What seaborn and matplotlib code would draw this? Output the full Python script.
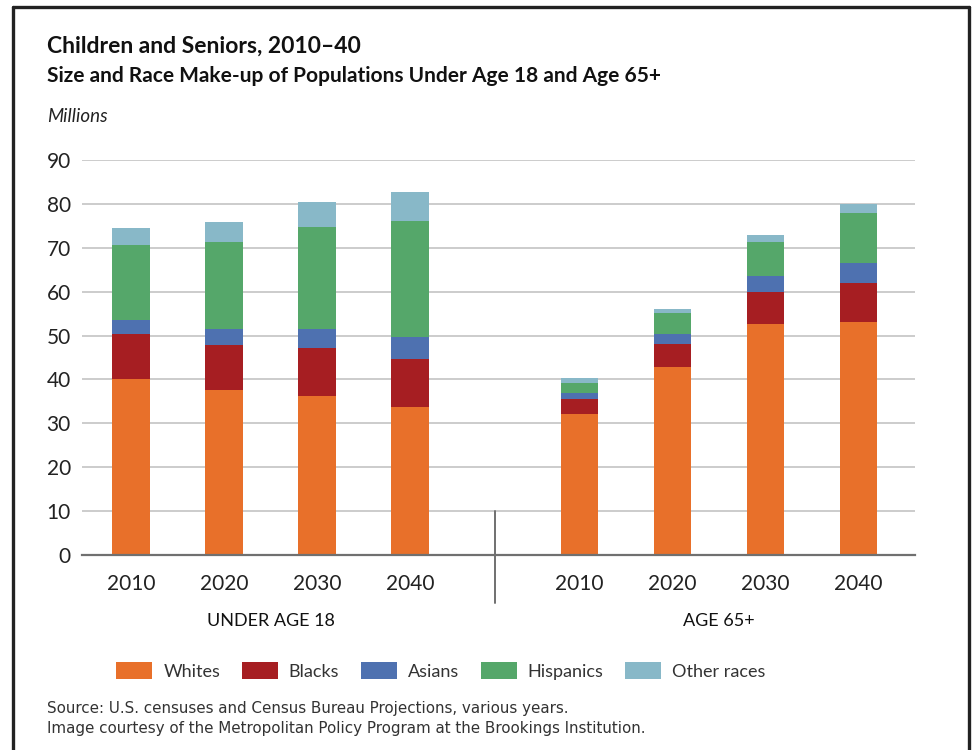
import numpy as np
import pandas as pd
import matplotlib
matplotlib.use("Agg")
import matplotlib.pyplot as plt
import seaborn as sns
from matplotlib.lines import Line2D
from matplotlib.patches import Patch

# ---- data (millions) ----
groups = ["UNDER AGE 18", "AGE 65+"]
years = ["2010", "2020", "2030", "2040"]
races = ["Whites", "Blacks", "Asians", "Hispanics", "Other races"]

whites_u18 = [40.2, 37.6, 36.3, 33.8]
blacks_u18 = [10.1, 10.3, 10.8, 10.8]
asians_u18 = [3.3, 3.7, 4.3, 5.0]
hispanics_u18 = [17.0, 19.8, 23.4, 26.6]
other_u18 = [3.8, 4.5, 5.6, 6.4]

whites_65 = [32.2, 42.9, 52.6, 53.2]
blacks_65 = [3.3, 5.2, 7.4, 8.7]
asians_65 = [1.3, 2.3, 3.6, 4.6]
hispanics_65 = [2.5, 4.7, 7.8, 11.4]
other_65 = [1.0, 0.9, 1.5, 2.1]

colors = ["#E8702A", "#A61E22", "#4E71B0", "#55A76A", "#88B8C8"]

# ---- build long table ----
gap = 1.82
rows = []
series = {
    "UNDER AGE 18": [whites_u18, blacks_u18, asians_u18, hispanics_u18, other_u18],
    "AGE 65+": [whites_65, blacks_65, asians_65, hispanics_65, other_65],
}
for gi, g in enumerate(groups):
    for yi, yr in enumerate(years):
        pos = yi + gi * (len(years) - 1 + gap)
        for ri, r in enumerate(races):
            rows.append(dict(group=g, year=yr, pos=pos, race=r, value=series[g][ri][yi]))
df = pd.DataFrame(rows)
df["race"] = pd.Categorical(df["race"], races, ordered=True)
df = df.sort_values(["pos", "race"])
df["cum"] = df.groupby("pos")["value"].cumsum()

# ---- figure ----
sns.set_theme(style="white")
plt.rcParams["font.family"] = ["Lato", "DejaVu Sans"]
fig = plt.figure(figsize=(9.78, 7.5), dpi=100)
ax = fig.add_axes([82 / 978, 1 - 555 / 750, (915 - 82) / 978, (555 - 160) / 750])

for ri in range(len(races) - 1, -1, -1):
    sub = df[df["race"] == races[ri]]
    sns.barplot(data=sub, x="pos", y="cum", native_scale=True, color=colors[ri],
                width=0.4, saturation=1, ax=ax, zorder=3, linewidth=0, errorbar=None)

ax.set_xlim(-0.527, 8.43)
ax.set_ylim(0, 90)
ax.set_yticks(np.arange(0, 91, 10))
ax.set_yticklabels([str(v) for v in range(0, 91, 10)], fontsize=15, color="#222222")
ax.yaxis.grid(True, color="#c8c8c8", linewidth=1.3, zorder=0)
ax.set_axisbelow(True)
ax.tick_params(axis="y", length=0, pad=8)
positions = sorted(df["pos"].unique())
ax.set_xticks(positions)
ax.set_xticklabels(years * 2, fontsize=15, color="#222222")
ax.tick_params(axis="x", length=0, pad=14)
ax.set_xlabel("")
ax.set_ylabel("")
for s in ["top", "right", "left"]:
    ax.spines[s].set_visible(False)
ax.spines["bottom"].set_color("#707070")
ax.spines["bottom"].set_linewidth(1.6)
ax.spines["bottom"].set_zorder(5)

# divider between groups
mid = (positions[3] + positions[4]) / 2
ax.plot([mid, mid], [10, -11], color="#707070", linewidth=1.4, clip_on=False, zorder=5)

# group labels
for gi, g in enumerate(groups):
    p = positions[gi * 4: gi * 4 + 4]
    cx = (p[0] + p[-1]) / 2
    ax.text(cx, -15, g, ha="center", va="center", fontsize=13, color="#111111",
            transform=ax.transData, clip_on=False)

# titles
fig.text(47 / 978, 1 - 46 / 750, "Children and Seniors, 2010\u201340", fontsize=16.5,
         fontweight="bold", color="#111111", va="center", ha="left")
fig.text(47 / 978, 1 - 76 / 750, "Size and Race Make-up of Populations Under Age 18 and Age 65+",
         fontsize=15, fontweight="bold", color="#111111", va="center", ha="left")
fig.text(47 / 978, 1 - 117 / 750, "Millions", fontsize=13.5, style="italic",
         color="#222222", va="center", ha="left")

# legend
handles = [Patch(facecolor=c, edgecolor="none") for c in colors]
fig.legend(handles, races, loc="center", bbox_to_anchor=(441 / 978, 1 - 671 / 750),
           ncol=5, frameon=False, fontsize=13, handlelength=2.0, handleheight=1.1,
           handletextpad=0.6, columnspacing=1.2, labelcolor="#333333")

# source
fig.text(47 / 978, 1 - 708 / 750, "Source: U.S. censuses and Census Bureau Projections, various years.",
         fontsize=10.9, color="#333333", va="center", ha="left", family="DejaVu Sans")
fig.text(47 / 978, 1 - 729 / 750,
         "Image courtesy of the Metropolitan Policy Program at the Brookings Institution.",
         fontsize=10.9, color="#333333", va="center", ha="left", family="DejaVu Sans")

# frame
fw = 2.4
fig.add_artist(Line2D([13 / 978, 13 / 978], [0, 1 - 7 / 750], transform=fig.transFigure,
                      color="#222222", linewidth=fw))
fig.add_artist(Line2D([13 / 978, 969 / 978], [1 - 7 / 750, 1 - 7 / 750], transform=fig.transFigure,
                      color="#222222", linewidth=fw))
fig.add_artist(Line2D([969 / 978, 969 / 978], [0, 1 - 7 / 750], transform=fig.transFigure,
                      color="#222222", linewidth=fw))

fig.savefig("out.png", dpi=100, facecolor="white")
